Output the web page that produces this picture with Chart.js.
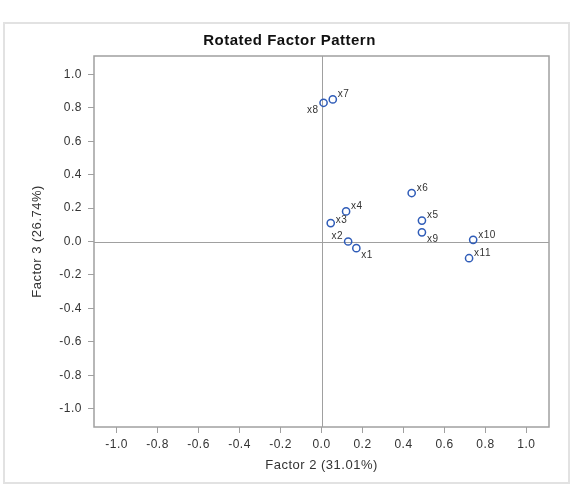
<!DOCTYPE html>
<html>
<head>
<meta charset="utf-8">
<script src="https://cdn.jsdelivr.net/npm/chart.js@4.4.0/dist/chart.umd.min.js"></script>
<style>
  body { margin: 0; background: #fff; }
  #frame { position: absolute; left: 3px; top: 22px; width: 563px; height: 458px; border: 2px solid #e2e2e2; }
  #wrap { position: absolute; left: 0; top: 0; width: 573px; height: 486px; }
</style>
</head>
<body>
<div id="frame"></div>
<div id="wrap"><canvas id="grafico" width="573" height="486"></canvas></div>
<script>
// variaveis e cargas (Factor 2, Factor 3)
const variaveis = ['x1', 'x2', 'x3', 'x4', 'x5', 'x6', 'x7', 'x8', 'x9', 'x10', 'x11'];
const fator2 = [0.17, 0.13, 0.045, 0.12, 0.49, 0.44, 0.055, 0.01, 0.49, 0.74, 0.72];
const fator3 = [-0.04, 0.00, 0.11, 0.18, 0.125, 0.29, 0.85, 0.83, 0.055, 0.01, -0.10];
const valoresTicks = [-1.0, -0.8, -0.6, -0.4, -0.2, 0.0, 0.2, 0.4, 0.6, 0.8, 1.0];

// onde fica o rotulo de cada ponto
const posRotulo = ['se', 'nw', 'e', 'ne', 'ne', 'ne', 'ne', 'sw', 'se', 'ne', 'ne'];

const corTexto = '#333333';
const corEixo = '#a0a0a0';
const espacamento = '0.5px';

// desenha moldura, linhas de referencia e rotulos dos pontos
const extras = {
  id: 'extras',
  beforeLayout(chart) { chart.ctx.letterSpacing = espacamento; },
  beforeDraw(chart) { chart.ctx.letterSpacing = espacamento; },
  beforeDatasetsDraw(chart) {
    const { ctx, chartArea: a, scales: { x, y } } = chart;
    ctx.save();
    ctx.strokeStyle = corEixo;
    ctx.lineWidth = 1;
    const x0 = Math.round(x.getPixelForValue(0)) + 0.5;
    const y0 = Math.round(y.getPixelForValue(0)) + 0.5;
    ctx.beginPath();
    ctx.moveTo(x0, a.top); ctx.lineTo(x0, a.bottom);
    ctx.moveTo(a.left, y0); ctx.lineTo(a.right, y0);
    ctx.stroke();
    ctx.lineWidth = 1.5;
    ctx.strokeRect(a.left, a.top, a.right - a.left, a.bottom - a.top);
    ctx.restore();
  },
  afterDatasetsDraw(chart) {
    const { ctx } = chart;
    const meta = chart.getDatasetMeta(0);
    ctx.save();
    ctx.font = '10px "Liberation Sans", Arial, sans-serif';
    ctx.fillStyle = corTexto;
    meta.data.forEach((p, i) => {
      const pos = posRotulo[i];
      let dx = 5, dy = -5;
      ctx.textAlign = 'left';
      if (pos.includes('w')) { dx = -5; ctx.textAlign = 'right'; }
      if (pos === 'e') dy = -3;
      if (pos.includes('s')) dy = 7;
      ctx.textBaseline = 'middle';
      ctx.fillText(variaveis[i], p.x + dx, p.y + dy);
    });
    ctx.restore();
  }
};

const fonteTick = { family: '"Liberation Sans", Arial, sans-serif', size: 12 };
const fonteTitulo = { family: '"Liberation Sans", Arial, sans-serif', size: 13 };

const contexto = document.getElementById('grafico').getContext('2d');
const grafico = new Chart(contexto, {
  type: 'scatter',
  data: {
    datasets: [{
      label: 'Cargas',
      data: variaveis.map((v, i) => ({ x: fator2[i], y: fator3[i] })),
      borderColor: '#2f5cb8',
      backgroundColor: 'rgba(255,255,255,0)',
      borderWidth: 1.5,
      pointRadius: 3.6,
      pointHoverRadius: 3.6
    }]
  },
  plugins: [extras],
  options: {
    responsive: false,
    animation: false,
    layout: { padding: { left: 30, right: 24, top: 0, bottom: 10 } },
    plugins: {
      legend: { display: false },
      tooltip: { enabled: false },
      title: {
        display: true,
        text: 'Rotated Factor Pattern',
        color: '#111',
        font: { family: '"Liberation Sans", Arial, sans-serif', size: 15, weight: 'bold', lineHeight: 1.2 },
        padding: { top: 32, bottom: 6 }
      }
    },
    scales: {
      x: {
        min: -1.11, max: 1.11,
        afterBuildTicks: s => { s.ticks = valoresTicks.map(v => ({ value: v })); },
        afterFit: s => { s.height = 49; },
        grid: { drawOnChartArea: false, drawTicks: true, tickLength: 6, color: corEixo },
        border: { display: false },
        ticks: { color: corTexto, font: fonteTick, padding: 4, maxRotation: 0, callback: v => v.toFixed(1) },
        title: { display: true, text: 'Factor 2 (31.01%)', color: corTexto, font: fonteTitulo, padding: { top: 0, bottom: 3 } }
      },
      y: {
        min: -1.11, max: 1.11,
        afterBuildTicks: s => { s.ticks = valoresTicks.map(v => ({ value: v })); },
        afterFit: s => { s.width = 64; },
        grid: { drawOnChartArea: false, drawTicks: true, tickLength: 6, color: corEixo },
        border: { display: false },
        ticks: { color: corTexto, font: fonteTick, padding: 6, callback: v => v.toFixed(1) },
        title: { display: true, text: 'Factor 3 (26.74%)', color: corTexto, font: fonteTitulo, padding: { top: 0, bottom: 0 } }
      }
    }
  }
});
</script>
</body>
</html>
